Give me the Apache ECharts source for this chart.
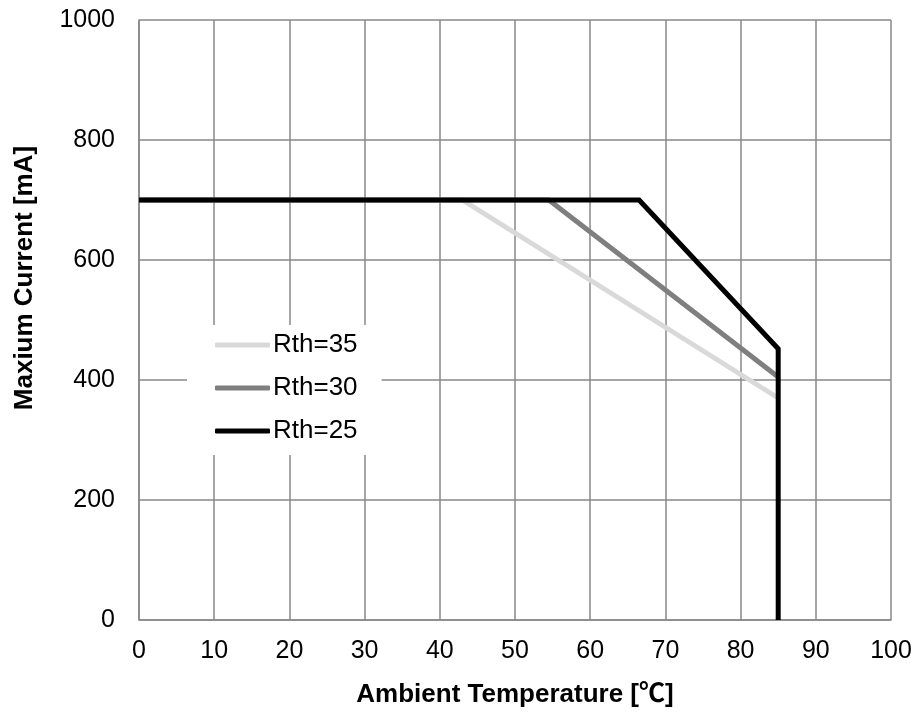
<!DOCTYPE html>
<html><head><meta charset="utf-8">
<script src="https://cdn.jsdelivr.net/npm/echarts@6/dist/echarts.min.js"></script>
<style>html,body{margin:0;padding:0;background:#fff}#c{width:917px;height:716px}</style>
</head><body><div id="c"></div>
<script>
const seriesNames = ['Rth=35', 'Rth=30', 'Rth=25'];
const rth35 = [[0, 700], [43, 700], [85, 370]];
const rth30 = [[0, 700], [54.5, 700], [85, 405]];
const rth25 = [[0, 700], [66.5, 700], [85, 452], [85, 0]];
const colors = ['#d9d9d9', '#7f7f7f', '#000000'];
const xTicks = {min: 0, max: 100, interval: 10};
const yTicks = {min: 0, max: 1000, interval: 200};

const font = '"Liberation Sans", Arial, "Noto Sans CJK SC", sans-serif';
const chart = echarts.init(document.getElementById('c'));
const mk = (name, data, i) => ({
  name, type: 'line', data, showSymbol: false, symbol: 'none',
  lineStyle: {color: colors[i], width: 5, cap: 'butt', join: 'miter'},
  itemStyle: {color: colors[i]}, animation: false
});
chart.setOption({
  animation: false,
  textStyle: {fontFamily: font},
  grid: {left: 139, right: 26, top: 20, bottom: 96, containLabel: false},
  xAxis: {
    type: 'value', min: xTicks.min, max: xTicks.max, interval: xTicks.interval,
    name: 'Ambient Temperature [℃]', nameLocation: 'middle', nameGap: 62,
    nameTextStyle: {fontSize: 26, fontWeight: 'bold', color: '#000', fontFamily: font},
    axisLine: {show: true, lineStyle: {color: '#898989', width: 1.5}},
    axisTick: {show: false},
    axisLabel: {fontSize: 25, color: '#000', margin: 19, fontFamily: font},
    splitLine: {show: true, lineStyle: {color: '#898989', width: 1.5}}
  },
  yAxis: {
    type: 'value', min: yTicks.min, max: yTicks.max, interval: yTicks.interval,
    name: 'Maxium Current [mA]', nameLocation: 'middle', nameGap: 101, nameRotate: 90,
    nameTextStyle: {fontSize: 26, fontWeight: 'bold', color: '#000', fontFamily: font, padding: [0, 0, 0, 84]},
    axisLine: {show: true, lineStyle: {color: '#898989', width: 1.5}},
    axisTick: {show: false},
    axisLabel: {fontSize: 25, color: '#000', margin: 24, fontFamily: font, formatter: v => String(v)},
    splitLine: {show: true, lineStyle: {color: '#898989', width: 1.5}}
  },
  legend: {
    orient: 'vertical', left: 187, top: 325,
    backgroundColor: '#fff', padding: [7, 24, 11, 28],
    itemWidth: 55, itemHeight: 5, itemGap: 17,
    icon: 'roundRect',
    data: seriesNames,
    textStyle: {fontSize: 26, color: '#000', fontFamily: font, padding: [0, 0, 0, -2]}
  },
  series: [mk(seriesNames[0], rth35, 0), mk(seriesNames[1], rth30, 1), mk(seriesNames[2], rth25, 2)]
});
</script></body></html>
